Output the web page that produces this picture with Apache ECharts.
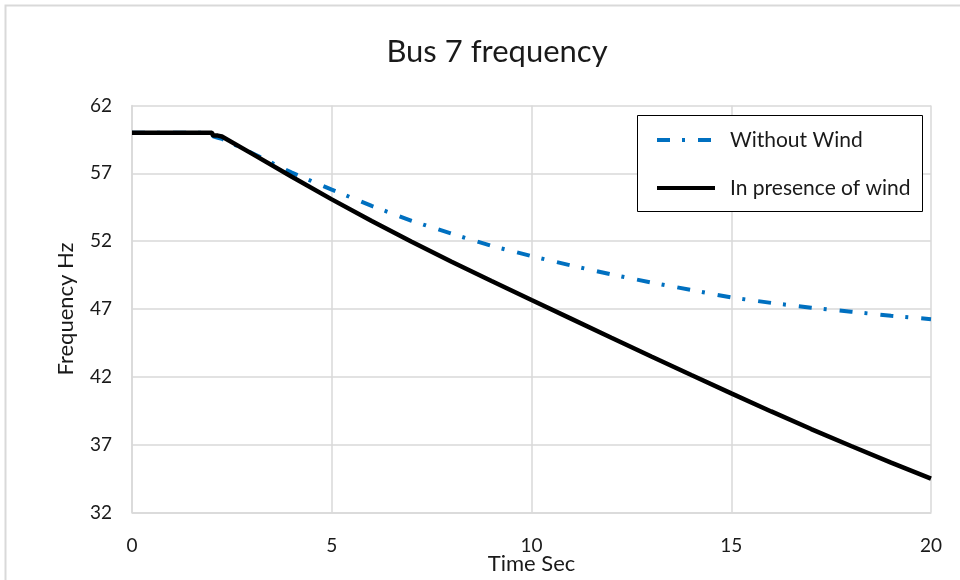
<!DOCTYPE html>
<html>
<head>
<meta charset="utf-8">
<script src="https://cdn.jsdelivr.net/npm/echarts@6/dist/echarts.min.js"></script>
<style>
html,body{margin:0;padding:0;background:#fff;}
#chart{width:960px;height:580px;}
</style>
</head>
<body>
<div id="chart"></div>
<script>
// Data
const timeSec = [0, 2, 2.03, 2.15, 2.25, 3, 4, 5, 6, 7, 8, 9, 10, 11, 12, 13, 14, 15, 16, 17, 18, 19, 20];
const withoutWind = [60, 60, 59.72, 59.62, 59.55, 58.5, 57.05, 55.8, 54.6, 53.5, 52.55, 51.65, 50.9, 50.2, 49.55, 48.95, 48.4, 47.85, 47.45, 47.1, 46.8, 46.5, 46.25];
const withWind = [60, 60, 59.78, 59.78, 59.72, 58.45, 56.75, 55.08, 53.48, 51.95, 50.48, 49.06, 47.66, 46.27, 44.88, 43.5, 42.13, 40.78, 39.45, 38.15, 36.9, 35.68, 34.5];
const seriesNames = ['Without Wind', 'In presence of wind'];
const chartTitle = 'Bus 7 frequency';
const xName = 'Time Sec';
const yName = 'Frequency Hz';

const FONT = 'Lato';
const chart = echarts.init(document.getElementById('chart'), null, {renderer: 'canvas'});
const zip = (xs, ys) => xs.map((x, i) => [x, ys[i]]);

chart.setOption({
  backgroundColor: '#fff',
  animation: false,
  title: {
    text: chartTitle,
    left: 492, top: 31, textAlign: 'center',
    textStyle: {fontFamily: FONT, fontSize: 31, fontWeight: 'normal', color: '#1a1a1a'}
  },
  graphic: [
    {type: 'rect', shape: {x: 5.5, y: 5.5, width: 1000, height: 1000},
     style: {fill: 'none', stroke: '#d9d9d9', lineWidth: 2}, silent: true, z: -1},
    {type: 'rect', shape: {x: 637.5, y: 115.5, width: 285, height: 96},
     style: {fill: '#fff', stroke: '#000', lineWidth: 1}, z: 5}
  ],
  legend: {
    orient: 'vertical', left: 650, top: 124,
    itemWidth: 58, itemHeight: 22, itemGap: 26, z: 10,
    itemStyle: {opacity: 0},
    lineStyle: {width: 4},
    textStyle: {fontFamily: FONT, fontSize: 21, color: '#1a1a1a', padding: [0, 0, 0, 10], lineHeight: 22},
    data: seriesNames
  },
  grid: {left: 132, right: 29, top: 105.5, bottom: 67.5, containLabel: false, outerBoundsMode: 'none'},
  xAxis: {
    type: 'value', min: 0, max: 20, interval: 5,
    name: xName, nameLocation: 'middle', nameGap: 40, nameMoveOverlap: false,
    nameTextStyle: {fontFamily: FONT, fontSize: 22, color: '#1a1a1a'},
    axisLine: {show: true, lineStyle: {color: '#d9d9d9', width: 1.5}},
    axisTick: {show: false},
    axisLabel: {fontFamily: FONT, fontSize: 19, color: '#1a1a1a', margin: 24},
    splitLine: {show: true, lineStyle: {color: '#d9d9d9', width: 1.5}}
  },
  yAxis: {
    type: 'value', min: 32, max: 62, interval: 5,
    name: yName, nameLocation: 'middle', nameGap: 55, nameRotate: 90, nameMoveOverlap: false,
    nameTextStyle: {fontFamily: FONT, fontSize: 22, color: '#1a1a1a'},
    axisLine: {show: true, lineStyle: {color: '#d9d9d9', width: 1.5}},
    axisTick: {show: false},
    axisLabel: {fontFamily: FONT, fontSize: 19, color: '#1a1a1a', margin: 20},
    splitLine: {show: true, lineStyle: {color: '#d9d9d9', width: 1.5}}
  },
  series: [
    {
      name: seriesNames[0], type: 'line', data: zip(timeSec, withoutWind),
      symbol: 'none', z: 3,
      lineStyle: {color: '#0070c0', width: 4, type: [13, 12, 3, 13], cap: 'butt'},
      itemStyle: {color: '#0070c0'}
    },
    {
      name: seriesNames[1], type: 'line', data: zip(timeSec, withWind),
      symbol: 'none', z: 4,
      lineStyle: {color: '#000', width: 4.5},
      itemStyle: {color: '#000'}
    }
  ]
});
</script>
</body>
</html>
